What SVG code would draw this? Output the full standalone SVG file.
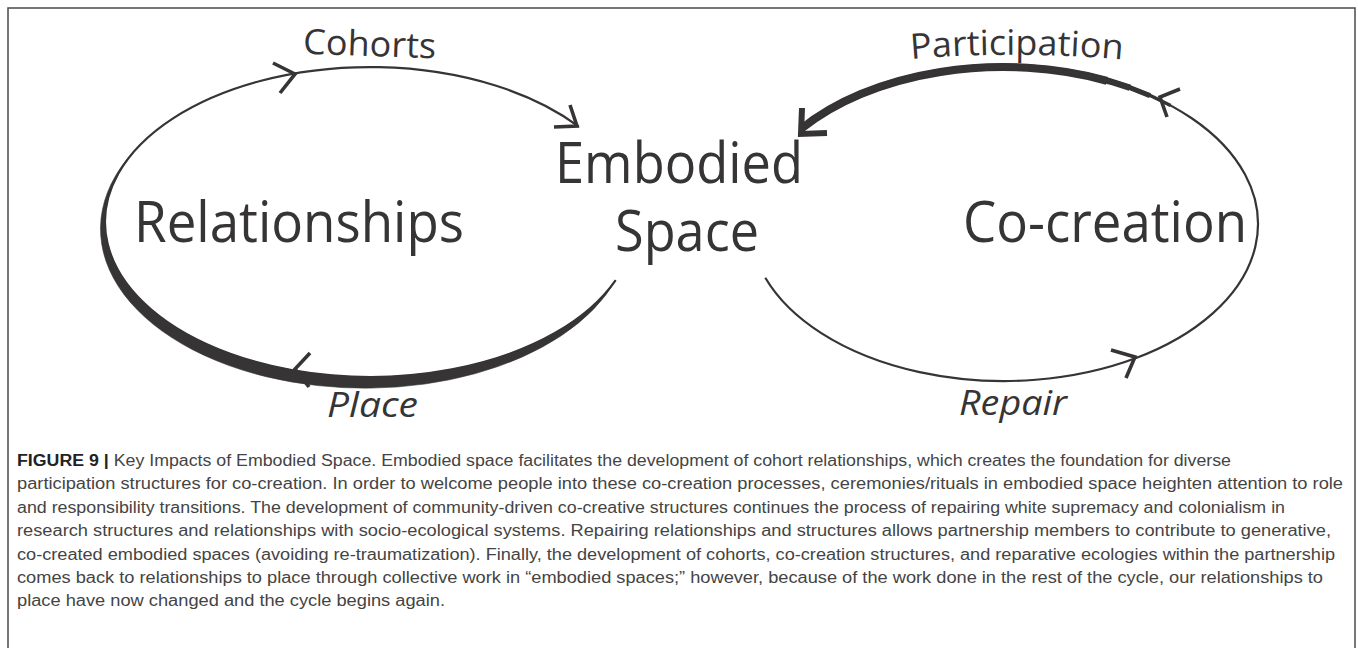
<svg xmlns="http://www.w3.org/2000/svg" width="1358" height="648" viewBox="0 0 1358 648">
<style>
.frame{fill:none;stroke:#4a4a4a;stroke-width:1.5}
.big{font-family:"Open Sans","Noto Sans",sans-serif;font-size:56px;fill:#363435}
.lbl{font-family:"Open Sans","Noto Sans",sans-serif;font-size:35px;fill:#363435}
.ital{font-style:italic}
.thin{fill:none;stroke:#363435;stroke-width:2.2}
.brush{fill:#363435;stroke:#363435;stroke-width:0.6}
.thick{fill:none;stroke:#363435}
.chev{fill:none;stroke:#363435;stroke-width:3.6;stroke-linejoin:miter;stroke-linecap:butt}
.cap{font-family:"Liberation Sans",Arial,sans-serif;font-size:16px;fill:#444}
.capb{font-weight:bold;fill:#222}
</style>
<rect class="frame" x="8" y="8" width="1347" height="660"/>

<g id="node-relationships">
<text class="big" x="134" y="242" textLength="330" lengthAdjust="spacingAndGlyphs">Relationships</text>
</g>
<g id="node-embodied-space">
<text class="big" x="555" y="183" textLength="248" lengthAdjust="spacingAndGlyphs">Embodied</text>
<text class="big" x="615" y="251" textLength="144" lengthAdjust="spacingAndGlyphs">Space</text>
</g>
<g id="node-cocreation">
<text class="big" x="963" y="242" textLength="284" lengthAdjust="spacingAndGlyphs">Co-creation</text>
</g>

<g id="connectors">
<!-- left loop: Relationships -->
<path class="thin" d="M 615.7 280.1 A 265 155 0 1 1 578.8 126.6"/>
<path class="brush" d="M 615.70 280.06 A 265 159.53 0 0 1 266.16 376.68 A 265 159.53 0 0 1 140.51 144.50 A 265 155 0 0 0 270.73 365.71 A 265 155 0 0 0 615.70 280.06 Z"/>
<path class="chev" d="M 273 63 L 295 74 L 280 93"/>
<path class="chev" d="M 570 105 L 577 126 L 554 127"/>
<path class="chev" d="M 310 353 L 295 369 L 309 387"/>
<!-- right loop: Co-creation -->
<path class="thin" d="M 765.3 277.7 A 254 157 0 1 0 799.8 130.6"/>
<path class="thick" stroke-width="8" d="M 801 129 A 254 157 0 0 1 1107 80.8"/>
<path class="thick" stroke-width="6.5" d="M 801 129 A 254 157 0 0 1 1130 87.7"/>
<path class="thick" stroke-width="5" d="M 801 129 A 254 157 0 0 1 1150 95.6"/>
<path class="thick" stroke-width="3.5" d="M 801 129 A 254 157 0 0 1 1170.6 105.5"/>
<path class="chev" d="M 1180 89 L 1160 97 L 1167 117"/>
<path class="chev" d="M 1111 350 L 1135 357 L 1126 378"/>
<path class="chev" style="stroke-width:6" d="M 802 108 L 801 134 L 827 133"/>
<!-- connector labels -->
<text class="lbl" x="303" y="56" textLength="133" lengthAdjust="spacingAndGlyphs" transform="rotate(2 370 50)">Cohorts</text>
<path id="pp" d="M 911 59 Q 1018 50 1126 60" fill="none"/>
<text class="lbl"><textPath href="#pp" textLength="212" lengthAdjust="spacingAndGlyphs">Participation</textPath></text>
<text class="lbl ital" x="327" y="417" textLength="91" lengthAdjust="spacingAndGlyphs">Place</text>
<text class="lbl ital" x="959" y="415" textLength="108" lengthAdjust="spacingAndGlyphs">Repair</text>
</g>

<g id="caption">
<text class="cap" x="17" y="466" textLength="1214" lengthAdjust="spacingAndGlyphs"><tspan class="capb">FIGURE 9 |</tspan> Key Impacts of Embodied Space. Embodied space facilitates the development of cohort relationships, which creates the foundation for diverse</text>
<text class="cap" x="17" y="489.4" textLength="1326" lengthAdjust="spacingAndGlyphs">participation structures for co-creation. In order to welcome people into these co-creation processes, ceremonies/rituals in embodied space heighten attention to role</text>
<text class="cap" x="17" y="512.8" textLength="1268" lengthAdjust="spacingAndGlyphs">and responsibility transitions. The development of community-driven co-creative structures continues the process of repairing white supremacy and colonialism in</text>
<text class="cap" x="17" y="536.2" textLength="1314" lengthAdjust="spacingAndGlyphs">research structures and relationships with socio-ecological systems. Repairing relationships and structures allows partnership members to contribute to generative,</text>
<text class="cap" x="17" y="559.6" textLength="1318" lengthAdjust="spacingAndGlyphs">co-created embodied spaces (avoiding re-traumatization). Finally, the development of cohorts, co-creation structures, and reparative ecologies within the partnership</text>
<text class="cap" x="17" y="583" textLength="1306" lengthAdjust="spacingAndGlyphs">comes back to relationships to place through collective work in “embodied spaces;” however, because of the work done in the rest of the cycle, our relationships to</text>
<text class="cap" x="17" y="606.4" textLength="428" lengthAdjust="spacingAndGlyphs">place have now changed and the cycle begins again.</text>
</g>
</svg>
